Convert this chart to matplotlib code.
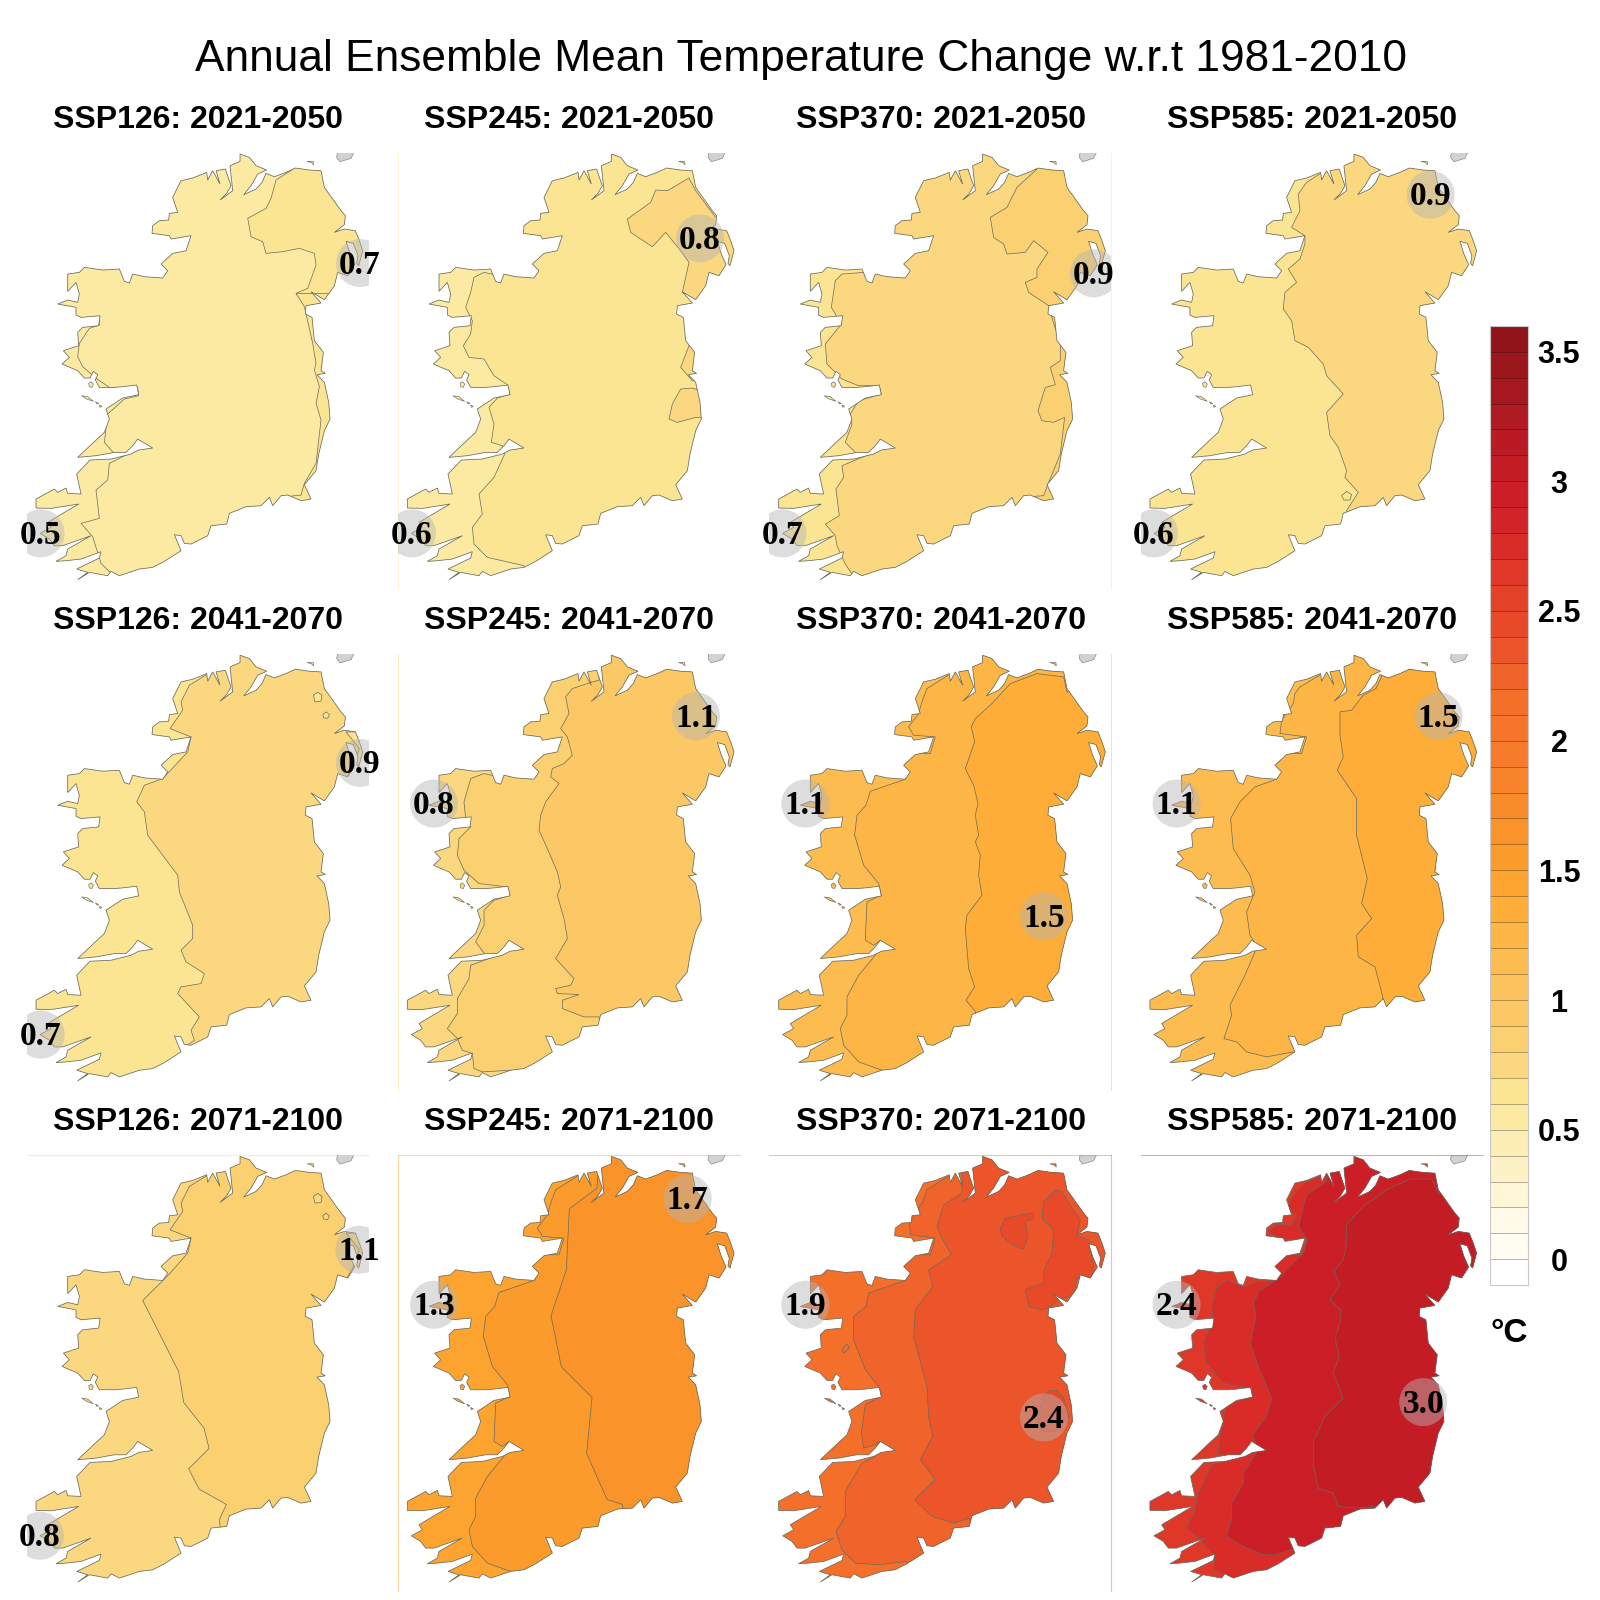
import numpy as np
import matplotlib
matplotlib.use("Agg")
import matplotlib.pyplot as plt
from matplotlib.colors import ListedColormap, BoundaryNorm
from matplotlib.cm import ScalarMappable
from matplotlib.patches import Polygon, Circle

# map coordinates are pixels*3 of a 370x460 window around each panel
outline = [(672,50),(700,60),(720,85),(752,98),(725,110),(705,145),(683,172),(720,155),(738,135),(750,108),
    (775,118),(810,105),(838,92),(880,98),(915,100),(925,150),(950,185),(975,220),(988,235),(985,262),(955,285),
    (985,275),(1018,280),(1030,310),(1040,340),(1028,385),(1022,378),(1026,355),(1012,318),(990,312),(1002,350),(1016,382),
    (995,415),(965,405),(955,445),(925,487),(885,463),(915,497),(870,505),(868,530),(888,540),(895,610),(922,645),
    (915,700),(928,708),(903,712),(925,735),(938,795),(942,845),(925,880),(908,950),(900,1000),(865,1042),(885,1085),
    (855,1090),(815,1073),(795,1075),(770,1105),(760,1080),(735,1105),(690,1108),(640,1128),(632,1160),(585,1165),
    (575,1195),(525,1220),(505,1218),(495,1195),(475,1192),(495,1240),(445,1272),(410,1290),(370,1295),(310,1315),
    (285,1302),(275,1315),(220,1305),(185,1327),(215,1305),(182,1295),(250,1262),(255,1243),(195,1265),(150,1270),
    (120,1272),(150,1255),(155,1235),(225,1195),(140,1225),(115,1225),(100,1205),(72,1188),(105,1170),(95,1155),
    (120,1140),(188,1100),(105,1113),(60,1112),(60,1085),(115,1055),(125,1065),(150,1052),(155,1068),(195,1070),
    (182,1010),(222,968),(285,965),(345,950),(368,938),(410,932),(365,905),(350,925),(330,945),(295,945),(240,955),
    (185,960),(240,908),(265,885),(280,845),(270,815),(320,782),(368,772),(362,743),(320,748),(295,750),(250,750),
    (238,728),(245,712),(232,702),(222,722),(205,722),(185,700),(138,680),(160,660),(142,640),(188,625),(185,585),
    (200,570),(248,565),(252,535),(195,540),(180,533),(180,510),(125,500),(155,488),(185,495),(190,470),(180,435),
    (155,462),(155,410),(190,405),(205,390),(260,398),(310,395),(325,432),(340,437),(350,410),(385,418),(440,422),
    (455,400),(435,380),(470,348),(510,340),(525,295),(465,305),(460,295),(408,288),(410,265),(430,250),(458,248),
    (460,228),(485,225),(470,180),(495,130),(530,122),(572,105),(575,128),(590,100),(612,140),(600,100),(628,95),
    (638,125),(645,145),(632,168),(612,188),(650,160),(642,85),(672,72)]
islands = [[(873,72),(892,72),(893,82),(885,75)],
    [(218,738),(225,733),(232,740),(228,750),(220,748)],
    [(197,775),(215,778),(232,792),(212,785)],
    [(238,793),(248,798),(243,800)],
    [(250,803),(258,807),(252,810)]]
scotland = [(965,40),(1016,40),(1005,63),(972,73),(962,60)]

# shared north end of the zone lines around Donegal Bay
donegal_mid = [(530,295),(515,345),(465,345),(430,378),(450,400),(440,422)]

r0c0_mid = [(1200,0),(0,0),(0,548),(250,548),(250,563),(220,573),(190,618),(185,658),(200,688),(240,723),(280,750),(365,750),
    (368,775),(325,785),(275,830),(265,915),(300,955),(330,953),(280,978),(275,1028),(240,1058),(250,1143),(195,1158),
    (230,1198),(255,1278),(290,1313),(330,1400),(1200,1400)]
r0c0_ne = [(830,0),(830,96),(780,128),(765,183),(750,213),(695,243),(705,298),(740,313),(750,348),(800,343),(850,333),
    (895,348),(900,383),(875,453),(840,468),(880,520),(1200,520),(1200,0)]
r0c0_east = [(840,468),(865,508),(890,618),(900,678),(895,698),(910,748),(900,798),(915,848),(900,978),(865,1038),
    (855,1073),(810,1078),(790,1083),(800,1400),(1200,1400),(1200,468)]

r0c1_mid = [(1200,0),(330,0),(322,412),(290,405),(260,420),(250,465),(235,510),(255,550),(250,590),(228,625),(245,660),
    (290,665),(320,715),(360,742),(368,770),(330,782),(305,810),(320,860),(312,915),(345,925),(352,950),(320,1020),
    (275,1070),(285,1130),(255,1170),(260,1220),(300,1260),(410,1285),(430,1400),(1200,1400)]
r0c1_ne = [(905,122),(840,160),(805,158),(790,195),(720,245),(730,285),(795,328),(835,285),(880,340),(905,375),(895,420),
    (885,465),(925,490),(1200,490),(1200,240),(985,240),(925,160)]
r0c1_patch = [(880,755),(855,800),(845,845),(870,855),(925,840),(1000,840),(1000,780),(915,752)]
r0c1_strip = [(905,625),(880,690),(915,730),(1000,730),(1000,640)]

r0c2_mid = [(1200,0),(310,0),(318,405),(250,410),(230,430),(218,510),(248,560),(200,620),(205,680),(250,725),(300,745),
    (362,745),(368,770),(300,790),(275,830),(280,860),(260,915),(295,950),(345,945),(250,985),(255,1020),(232,1055),
    (242,1135),(200,1160),(230,1195),(235,1225),(260,1280),(280,1310),(310,1400),(1200,1400)]
r0c2_ne = [(835,0),(835,95),(775,150),(745,210),(695,240),(705,300),(735,320),(745,350),(800,345),(825,310),(868,345),
    (835,395),(835,420),(800,435),(810,465),(870,505),(1200,505),(1200,0)]
r0c2_east = [(870,510),(905,620),(905,670),(875,690),(890,742),(860,750),(838,820),(850,850),(885,855),(918,840),(905,950),
    (868,1040),(855,1075),(810,1078),(820,1400),(1200,1400),(1200,510)]

r0c3_east = [(572,0),(572,108),(530,135),(505,170),(510,220),(485,270),(525,295),(525,320),(510,365),(475,395),(500,435),
    (465,465),(460,515),(485,550),(495,610),(535,630),(580,680),(590,715),(640,770),(590,825),(600,895),(625,930),
    (650,1000),(645,1020),(685,1065),(650,1120),(700,1400),(1200,1400),(1200,0)]
r0c3_ring = [(635,1075),(650,1062),(665,1072),(660,1088),(642,1088)]

r1c0_east = [(572,0),(572,108),(520,140),(495,190),(500,215),(462,270),(525,295),(515,340),(440,420),(385,440),(362,490),
    (385,520),(395,590),(440,650),(485,710),(490,760),(530,860),(530,900),(495,935),(510,970),(565,1005),(555,1035),
    (495,1045),(485,1065),(550,1135),(525,1175),(535,1205),(510,1222),(550,1400),(1200,1400),(1200,0)]
lake_a = [(892,170),(905,161),(918,170),(915,188),(897,190)]
lake_b = [(920,228),(930,220),(940,228),(935,239),(923,238)]
ards = [(990,280),(1050,280),(1050,400),(990,420),(1010,385),(1030,330)]

r1c1_mid = [(1200,0),(330,0),(322,412),(290,405),(250,420),(230,490),(235,540),(250,565),(215,600),(210,650),(230,695),
    (275,735),(360,745),(368,770),(320,785),(290,815),(290,860),(265,910),(295,950),(345,945),(250,980),(245,1020),
    (210,1080),(210,1125),(180,1170),(210,1200),(225,1235),(255,1245),(260,1290),(285,1300),(370,1295),(420,1400),(1200,1400)]
r1c1_east = [(640,0),(635,125),(615,130),(555,150),(535,175),(545,225),(520,270),(540,295),(555,350),(530,375),(495,390),
    (490,415),(515,435),(475,490),(460,530),(455,575),(480,630),(510,700),(520,745),(510,770),(530,840),(540,900),(505,960),
    (560,1020),(550,1040),(505,1050),(510,1065),(575,1068),(525,1085),(525,1110),(590,1135),(635,1135),(700,1400),(1200,1400),(1200,0)]

r1c2_mid = [(1200,0),(572,0),(572,108),(505,150),(490,190),(480,225),(450,265),(465,290)] + donegal_mid + [(335,458),(322,500),
    (295,530),(288,590),(315,680),(360,735),(368,770),(325,790),(320,905),(345,920),(365,905),(350,950),(300,1010),(265,1075),
    (265,1130),(245,1170),(255,1220),(300,1270),(370,1295),(420,1400),(1200,1400)]
r1c2_east = [(1200,160),(925,160),(915,115),(835,105),(755,135),(700,195),(650,240),(638,265),(648,310),(620,390),(645,440),
    (658,495),(650,530),(660,590),(650,610),(665,650),(660,710),(670,770),(625,830),(620,870),(630,990),(648,1045),(622,1085),
    (650,1118),(700,1400),(1200,1400)]

r1c3_mid = [(1200,0),(572,0),(572,108),(510,145),(495,165),(490,195),(455,245),(450,285)] + donegal_mid + [(375,445),(330,490),
    (302,540),(310,630),(360,710),(375,760),(350,820),(360,890),(370,905),(375,940),(345,1010),(300,1100),(305,1130),(282,1200),
    (320,1210),(350,1240),(410,1255),(490,1240),(500,1400),(1200,1400)]
r1c3_east = [(755,0),(755,115),(738,150),(700,170),(665,215),(630,220),(630,290),(640,355),(622,395),(680,480),(680,590),
    (712,720),(695,795),(725,840),(680,890),(685,955),(735,985),(755,1060),(760,1085),(775,1400),(1200,1400),(1200,0)]

r2c0_east = [(572,0),(572,108),(520,140),(495,190),(500,215),(462,270),(525,295),(515,340),(457,406),(380,482),(411,543),
    (488,696),(503,788),(564,865),(579,926),(518,987),(549,1048),(631,1094),(610,1140),(640,1400),(1200,1400),(1200,0)]

r2c1_east = [(640,0),(629,145),(546,207),(537,390),(491,528),(522,681),(614,773),(598,941),(659,1079),(705,1094),
    (740,1400),(1200,1400),(1200,0)]

r2c2_mid = [(1200,0),(572,0),(572,108),(505,150),(490,190),(452,240),(455,285)] + donegal_mid + [(330,460),(322,500),(285,530),
    (285,600),(320,690),(360,740),(368,770),(320,795),(308,880),(315,925),(350,915),(360,905),(350,950),(310,970),(260,1055),
    (260,1130),(232,1175),(250,1230),(290,1270),(360,1275),(445,1265),(450,1400),(1200,1400)]
r2c2_inner = [(612,0),(610,160),(555,195),(535,260),(550,295),(578,345),(510,390),(522,440),(470,510),(465,590),(505,740),
    (510,830),(522,890),(485,960),(530,1020),(468,1080),(520,1130),(585,1150),(632,1135),(700,1400),(1200,1400),(1200,0)]
r2c2_ne = [(890,150),(855,185),(850,235),(885,270),(880,340),(855,395),(855,430),(800,450),(810,500),(850,510),(870,505),
    (900,480),(945,465),(955,415),(1000,415),(1005,380),(990,300),(955,290),(965,240),(930,190),(910,155)]
r2c2_blob = [(725,265),(740,235),(790,225),(825,220),(825,237),(800,245),(808,290),(795,328),(770,320),(730,290)]
r2c2_spot = [(875,752),(855,770),(835,840),(850,875),(890,875),(930,830),(915,775),(895,752)]
r2c2_lake = [(250,630),(265,612),(272,625),(255,640)]

r2c3_mid = [(1200,0),(572,0),(572,108),(525,130),(490,165),(470,210),(500,225),(485,255),(440,255),(415,275),(440,295),(490,300)] \
    + donegal_mid + [(385,425),(345,440),(325,435),(290,420),(260,445),(245,500),(250,540),(220,610),(230,670),(280,730),(360,745),
    (368,770),(325,785),(290,790),(270,890),(265,940),(300,955),(345,945),(245,975),(205,1060),(195,1110),(170,1165),(210,1200),
    (255,1250),(250,1290),(290,1305),(330,1400),(1200,1400)]
r2c3_inner = [(600,0),(590,125),(530,165),(505,260),(532,300),(520,340),(440,420),(385,455),(372,490),(378,530),(362,610),
    (385,680),(425,775),(410,830),(368,885),(385,930),(340,1000),(340,1030),(305,1090),(305,1135),(290,1190),(340,1220),
    (400,1245),(440,1245),(495,1225),(500,1400),(1200,1400),(1200,0)]
r2c3_east = [(1200,160),(925,160),(905,118),(840,118),(770,150),(700,200),(650,255),(648,320),(640,360),(612,395),(630,435),
    (600,480),(632,510),(630,550),(615,595),(628,650),(610,700),(640,775),(585,830),(550,905),(550,975),(565,1045),(610,1060),
    (625,1100),(680,1105),(735,1100),(770,1400),(1200,1400)]

scenarios = ["SSP126", "SSP245", "SSP370", "SSP585"]
periods = ["2021-2050", "2041-2070", "2071-2100"]

# outermost band of each panel, then (value, zone) drawn on top
base_values = [[0.55, 0.55, 0.65, 0.65],
               [0.65, 0.75, 1.15, 1.15],
               [0.75, 1.45, 2.15, 2.65]]
panel_zones = [
    [[(0.55, r0c0_mid), (0.65, r0c0_ne), (0.65, r0c0_east)],
     [(0.65, r0c1_mid), (0.75, r0c1_ne), (0.75, r0c1_patch), (0.75, r0c1_strip)],
     [(0.75, r0c2_mid), (0.85, r0c2_ne), (0.85, r0c2_east)],
     [(0.75, r0c3_east), (0.65, r0c3_ring)]],
    [[(0.75, r1c0_east), (0.65, lake_a), (0.65, lake_b), (0.65, ards)],
     [(0.85, r1c1_mid), (0.95, r1c1_east)],
     [(1.25, r1c2_mid), (1.35, r1c2_east)],
     [(1.25, r1c3_mid), (1.35, r1c3_east)]],
    [[(0.85, r2c0_east), (0.75, lake_a), (0.75, lake_b), (0.75, ards)],
     [(1.55, r1c2_mid), (1.65, r2c1_east)],
     [(2.25, r2c2_mid), (2.35, r2c2_inner), (2.45, r2c2_ne), (2.45, r2c2_blob), (2.45, r2c2_spot), (2.15, r2c2_lake)],
     [(2.75, r2c3_mid), (2.95, r2c3_inner), (3.05, r2c3_east)]],
]

# min and max of each panel: label, x, y
extremes = [
    [[("0.5", 74, 1188), ("0.7", 1032, 377)],
     [("0.6", 74, 1188), ("0.8", 938, 303)],
     [("0.7", 72, 1188), ("0.9", 1006, 408)],
     [("0.6", 72, 1188), ("0.9", 902, 172)]],
    [[("0.7", 74, 1188), ("0.9", 1032, 373)],
     [("0.8", 140, 495), ("1.1", 926, 233)],
     [("1.1", 140, 495), ("1.5", 856, 833)],
     [("1.1", 140, 495), ("1.5", 926, 233)]],
    [[("0.8", 72, 1188), ("1.1", 1030, 330)],
     [("1.3", 140, 495), ("1.7", 901, 177)],
     [("1.9", 140, 495), ("2.4", 856, 833)],
     [("2.4", 140, 495), ("3.0", 880, 787)]],
]

# faint bits of the panel frame left over in each panel
frame_sides = [[[], ["left"], ["right"], []],
               [[], ["left"], ["right"], []],
               [["top"], ["top", "left"], ["top", "right"], ["top"]]]

level_colors = ["#FFFFFF", "#FFFDF2", "#FFFBE8", "#FEF6D6", "#FDF2C5", "#FCEEB5", "#FCEAA3", "#FBE592", "#FBD87F", "#FBD070",
    "#FCC865", "#FCC25D", "#FDBC50", "#FDB545", "#FDAD38", "#FCA42F", "#FB9B2B", "#F9932A", "#F88B2A", "#F7842B",
    "#F67C2B", "#F5762B", "#F46F2A", "#F0632A", "#EC5529", "#E84A29", "#E44228", "#DF3728", "#D92C28", "#D22329",
    "#CC1E27", "#C41C25", "#BA1A24", "#B01A22", "#A6181F", "#9C171C", "#91141A"]
bar_ticks = [0, 0.5, 1, 1.5, 2, 2.5, 3, 3.5]
bar_labels = ["0", "0.5", "1", "1.5", "2", "2.5", "3", "3.5"]

levels = np.linspace(-0.1, 3.6, 38)
cmap = ListedColormap(level_colors)
norm = BoundaryNorm(levels, cmap.N)

W = H = 1600
plt.rcParams['font.family'] = ['Liberation Sans', 'DejaVu Sans']
fig = plt.figure(figsize=(16, 16), dpi=100, facecolor="white")


def add_axes_px(left, top, width, height):
    return fig.add_axes([left / W, 1 - (top + height) / H, width / W, height / H])


fig.text(801 / W, 1 - 59 / H, "Annual Ensemble Mean Temperature Change w.r.t 1981-2010",
         fontsize=31.85, ha="center", va="center")

edge = "#6A6A5E"
for r in range(3):
    for c in range(4):
        ax = add_axes_px(26.7 + 371.3 * c, 152.7 + 501.2 * r, 342, 436)
        ax.set_xlim(32, 1058)
        ax.set_ylim(1354, 46)
        ax.set_xticks([])
        ax.set_yticks([])
        base = cmap(norm(base_values[r][c]))
        for side in ["top", "bottom", "left", "right"]:
            ax.spines[side].set_visible(side in frame_sides[r][c])
            ax.spines[side].set_color(base)
            ax.spines[side].set_alpha(0.45)
            ax.spines[side].set_linewidth(0.8)

        ax.add_patch(Polygon(scotland, closed=True, fc="#D2D2D2", ec="#8A8A8A", lw=0.5))
        land = Polygon(outline, closed=True, fc=base, ec="none", zorder=1)
        ax.add_patch(land)
        for isle in islands:
            ax.add_patch(Polygon(isle, closed=True, fc=base, ec=edge, lw=0.45, zorder=3))
        for value, zone in panel_zones[r][c]:
            patch = Polygon(zone, closed=True, fc=cmap(norm(value)), ec=edge, lw=0.5, zorder=2)
            ax.add_patch(patch)
            patch.set_clip_path(land)
        ax.add_patch(Polygon(outline, closed=True, fc="none", ec=edge, lw=0.55, zorder=3))

        for label, x, y in extremes[r][c]:
            ax.add_patch(Circle((x, y), 72, fc="#B5B5B5", ec="none", alpha=0.46, zorder=4))
            ax.text(x, y + 6, label, fontsize=24, fontweight="bold", family=["Liberation Serif"],
                    ha="center", va="center", zorder=5)

        fig.text((198 + 371.3 * c) / W, 1 - (120 + 501.2 * r) / H, f"{scenarios[c]}: {periods[r]}",
                 fontsize=23, fontweight="bold", ha="center", va="center")

cax = add_axes_px(1490, 325.7, 37.7, 959.6)
cb = fig.colorbar(ScalarMappable(norm=norm, cmap=cmap), cax=cax, spacing="proportional",
                  ticks=bar_ticks, drawedges=True)
cb.ax.minorticks_off()
cb.ax.set_yticklabels(bar_labels, fontsize=22, fontweight="bold", ha="center")
cb.ax.tick_params(which="both", length=0, pad=22.5)
cb.dividers.set_color("#000000")
cb.dividers.set_alpha(0.3)
cb.dividers.set_linewidth(0.7)
cb.outline.set_edgecolor("#C8C8C8")
cb.outline.set_linewidth(0.8)
fig.text(1509 / W, 1 - 1334 / H, "°C", fontsize=24, fontweight="bold", ha="center", va="center")

fig.savefig("out.png", dpi=100)
